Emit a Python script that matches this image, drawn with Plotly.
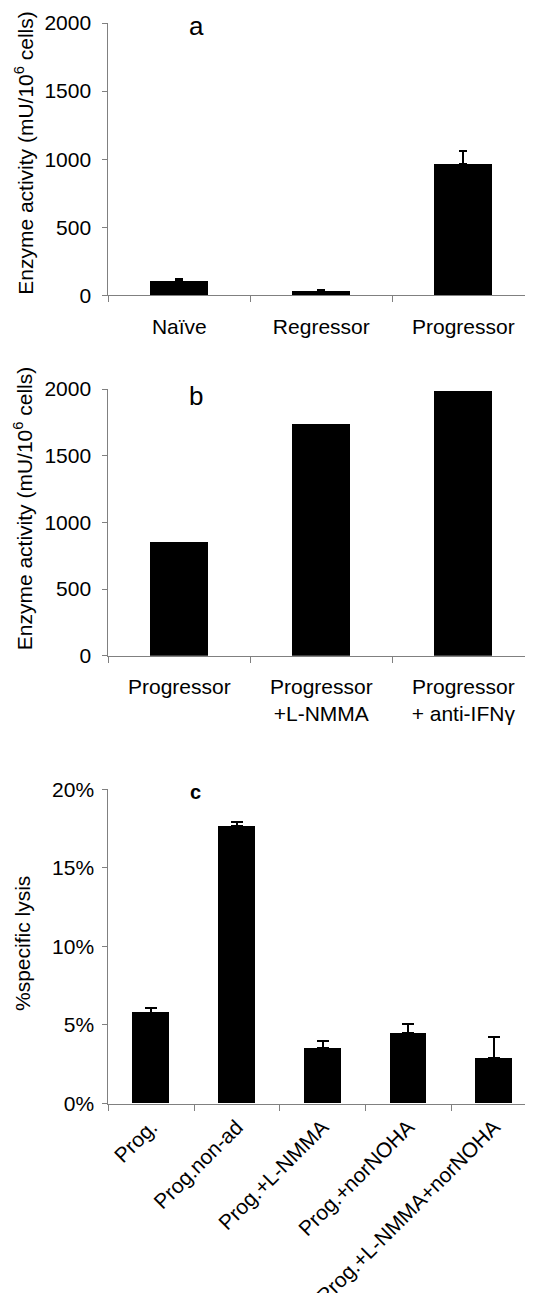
import plotly.graph_objects as go

# ---- data ----
cats_a = ["Naïve", "Regressor", "Progressor"]
vals_a = [105, 29, 967]
err_a = [12, 12, 93]

cats_b = ["Progressor", "Progressor<br>+L-NMMA", "Progressor<br>+ anti-IFNγ"]
vals_b = [855, 1735, 1987]

cats_c = ["Prog.", "Prog.non-ad", "Prog.+L-NMMA", "Prog.+norNOHA", "Prog.+L-NMMA+norNOHA"]
vals_c = [5.78, 17.65, 3.53, 4.47, 2.88]
err_c = [0.30, 0.27, 0.47, 0.59, 1.37]

ticks_ab = [0, 500, 1000, 1500, 2000]
ticks_c = [0, 5, 10, 15, 20]
ticklabels_c = ["0%", "5%", "10%", "15%", "20%"]

# page body has an 8px margin: size the figure to fill the rest of the window
OFF = 8
W, H = 533 - OFF, 1293 - OFF
FONT = "Liberation Sans, Arial, sans-serif"
AXC = "#808080"

def px(x):
    return (x - OFF) / W

def py(y):
    return 1 - (y - OFF) / H

fig = go.Figure()

fig.add_trace(go.Bar(
    x=cats_a, y=vals_a, width=0.415, marker=dict(color="black", line=dict(width=0)),
    error_y=dict(type="data", symmetric=False, array=err_a, arrayminus=[0] * 3,
                 color="black", thickness=2, width=4),
    xaxis="x", yaxis="y", showlegend=False))

fig.add_trace(go.Bar(
    x=cats_b, y=vals_b, width=0.415, marker=dict(color="black", line=dict(width=0)),
    xaxis="x2", yaxis="y2", showlegend=False))

fig.add_trace(go.Bar(
    x=cats_c, y=vals_c, width=0.43, marker=dict(color="black", line=dict(width=0)),
    error_y=dict(type="data", symmetric=False, array=err_c, arrayminus=[0] * 5,
                 color="black", thickness=2, width=6),
    xaxis="x3", yaxis="y3", showlegend=False))

xdom = [px(108.3), 1]
plotw = 533 - 108.3

common_x = dict(showline=True, linecolor=AXC, linewidth=1, ticks="outside",
                tickson="boundaries", ticklen=6, tickcolor=AXC, tickwidth=1,
                showgrid=False, zeroline=False, fixedrange=True, automargin=False)
common_y = dict(showline=True, linecolor=AXC, linewidth=1, ticks="outside",
                ticklen=5, tickcolor=AXC, tickwidth=1, showgrid=False,
                zeroline=False, automargin=False,
                tickfont=dict(family=FONT, size=21, color="black"))

fig.update_layout(
    template="none",
    width=W, height=H, margin=dict(l=0, r=0, t=0, b=0, pad=0),
    paper_bgcolor="white", plot_bgcolor="white", bargap=0,
    font=dict(family=FONT, color="black"),
    xaxis=dict(domain=xdom, anchor="y", range=[-0.5, -0.5 + plotw / 142],
               ticklabelstandoff=12, tickfont=dict(family=FONT, size=21, color="black"),
               **common_x),
    yaxis=dict(domain=[py(295.3), py(23)], anchor="x", range=[0, 2000],
               tickvals=ticks_ab, ticklabelstandoff=7, **common_y),
    xaxis2=dict(domain=xdom, anchor="y2", range=[-0.5, -0.5 + plotw / 142],
                ticklabelstandoff=12, tickfont=dict(family=FONT, size=21, color="black"),
                **common_x),
    yaxis2=dict(domain=[py(655.7), py(389)], anchor="x2", range=[0, 2000],
                tickvals=ticks_ab, ticklabelstandoff=7, **common_y),
    xaxis3=dict(domain=xdom, anchor="y3", range=[-0.5, -0.5 + plotw / 85.7],
                tickangle=-45, ticklabelstandoff=2,
                tickfont=dict(family=FONT, size=21, color="black"), **common_x),
    yaxis3=dict(domain=[py(1103.5), py(789.3)], anchor="x3", range=[0, 20],
                tickvals=ticks_c, ticktext=ticklabels_c, ticklabelstandoff=4,
                **common_y),
)

ann = [
    dict(text="Enzyme activity (mU/10<sup>6</sup> cells)", x=px(23.8), y=py(153),
         textangle=-90, font=dict(size=21)),
    dict(text="Enzyme activity (mU/10<sup>6</sup> cells)", x=px(23.8), y=py(508.5),
         textangle=-90, font=dict(size=21)),
    dict(text="%specific lysis", x=px(22), y=py(944), textangle=-90, font=dict(size=21)),
    dict(text="a", x=px(196), y=py(26.5), font=dict(size=26)),
    dict(text="b", x=px(196), y=py(396), font=dict(size=26)),
    dict(text="<b>c</b>", x=px(195), y=py(792), font=dict(size=20)),
]
for a in ann:
    a.update(xref="paper", yref="paper", showarrow=False, xanchor="center", yanchor="middle")
    a["font"].update(family=FONT, color="black")
fig.update_layout(annotations=ann)

fig.write_html("out.html")
